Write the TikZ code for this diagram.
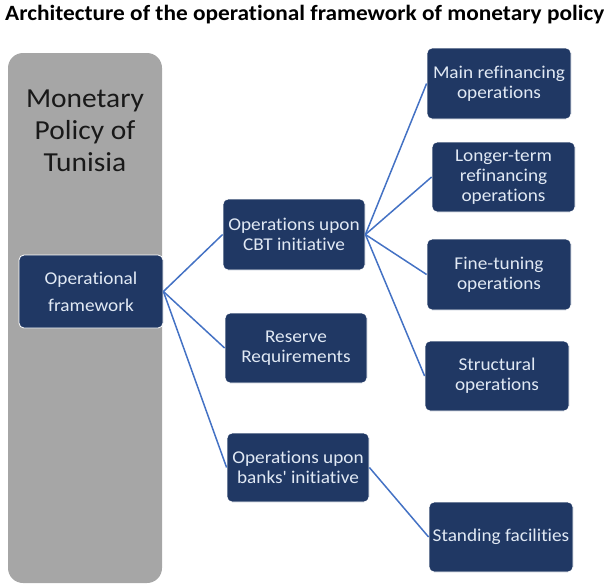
\documentclass[tikz,border=0pt]{standalone}
\usepackage{fontspec}
\setmainfont{Carlito}[FakeStretch=1.07,Ligatures={TeX,CommonOff}]
\definecolor{navy}{RGB}{32,56,100}
\definecolor{boxtext}{RGB}{225,233,244}
\definecolor{panel}{RGB}{166,166,166}
\definecolor{link}{RGB}{68,114,196}
\begin{document}
\begin{tikzpicture}[x=1pt,y=-1pt,
  opbox/.style={draw=white,line width=0.8pt,fill=navy,rounded corners=5pt,text=boxtext,align=center,inner sep=0pt,
    font=\fontsize{18}{20}\selectfont},
  link/.style={draw=link,line width=1.5pt}]
\useasboundingbox (0,0) rectangle (604,584);
\node[anchor=base west,inner sep=0pt,font=\fontsize{21.8}{24}\bfseries\selectfont] (title) at (5,20) {Architecture of the operational framework of monetary policy};
\node[fill=panel,rounded corners=15pt,minimum width=154pt,minimum height=530pt,inner sep=0pt] (panel) at (85,318) {};
\node[align=center,text=black!90,font=\fontsize{27.5}{32}\selectfont,inner sep=0pt] (mp) at (85,131) {Monetary\\Policy of\\Tunisia};
\node[opbox,minimum width=144pt,minimum height=73pt,font=\fontsize{18}{27}\selectfont] (of) at (91,291.5) {Operational\\framework};
\node[opbox,minimum width=142pt,minimum height=71pt] (cbt) at (294,234.5) {Operations upon\\CBT initiative};
\node[opbox,minimum width=142pt,minimum height=70pt] (rr) at (296,348) {Reserve\\Requirements};
\node[opbox,minimum width=142pt,minimum height=69pt] (banks) at (298,467.5) {Operations upon\\banks\textquotesingle{} initiative};
\node[opbox,minimum width=144pt,minimum height=71pt] (mro) at (499,83.5) {Main refinancing\\operations};
\node[opbox,minimum width=143pt,minimum height=70pt] (ltro) at (503.5,177) {Longer-term\\refinancing\\operations};
\node[opbox,minimum width=144pt,minimum height=71pt] (ft) at (499,274.5) {Fine-tuning\\operations};
\node[opbox,minimum width=144pt,minimum height=70pt] (so) at (497,376) {Structural\\operations};
\node[opbox,minimum width=144pt,minimum height=70pt] (sf) at (501,537) {Standing facilities};
\draw[link] (of.east) -- (cbt.west);
\draw[link] (of.east) -- (rr.west);
\draw[link] (of.east) -- (banks.west);
\draw[link] (cbt.east) -- (mro.west);
\draw[link] (cbt.east) -- (ltro.west);
\draw[link] (cbt.east) -- (ft.west);
\draw[link] (cbt.east) -- (so.west);
\draw[link] (banks.east) -- (sf.west);
\end{tikzpicture}
\end{document}
